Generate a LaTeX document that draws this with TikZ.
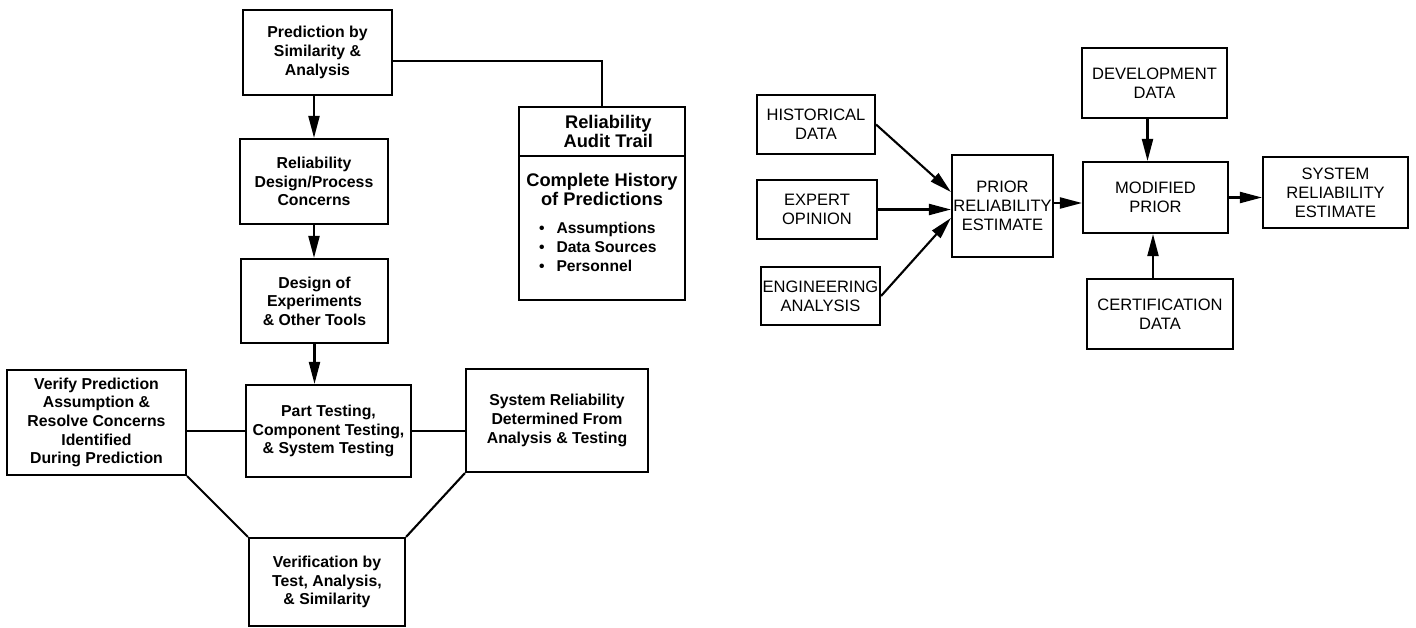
\documentclass[tikz,border=0pt]{standalone}
\usepackage{fontspec}
\setmainfont{Liberation Sans}
\usetikzlibrary{arrows.meta}
\tikzstyle{stepbox}=[rectangle,draw=black,line width=1.2pt,inner sep=0pt,align=center,font=\bfseries\fontsize{9}{10.6}\selectfont]
\tikzstyle{auditbox}=[rectangle,draw=black,line width=1.2pt,inner sep=0pt,align=center,font=\bfseries\fontsize{10.4}{10.9}\selectfont]
\tikzstyle{databox}=[rectangle,draw=black,line width=1.2pt,inner sep=0pt,align=center,font=\fontsize{9.4}{10.8}\selectfont]
\tikzstyle{inarrow}=[-{Triangle[length=0.44cm,width=0.22cm]},line width=1.2pt]
\tikzstyle{link}=[-,line width=1.2pt]
\pgfdeclarelayer{edgelayer}
\pgfdeclarelayer{nodelayer}
\pgfsetlayers{edgelayer,nodelayer,main}

\begin{document}
\begin{tikzpicture}
	\useasboundingbox (0,0) rectangle (28.32,-12.56);
	\begin{pgfonlayer}{nodelayer}
		% left: prediction and verification
		\node [style=stepbox, minimum width=2.98cm, minimum height=1.70cm] (pred) at (6.35, -1.05) {Prediction by\\ Similarity \&\\ Analysis};
		\node [style=stepbox, minimum width=2.96cm, minimum height=1.70cm] (conc) at (6.28, -3.63) {Reliability\\ Design/Process\\ Concerns};
		\node [style=stepbox, minimum width=2.94cm, minimum height=1.68cm] (doe) at (6.29, -6.02) {Design of\\ Experiments\\ \& Other Tools};
		\node [style=stepbox, minimum width=3.30cm, minimum height=1.84cm] (test) at (6.57, -8.62) {Part Testing,\\ Component Testing,\\ \& System Testing};
		\node [style=stepbox, minimum width=3.58cm, minimum height=2.10cm] (verify) at (1.93, -8.45) {Verify Prediction\\ Assumption \&\\ Resolve Concerns\\ Identified\\ During Prediction};
		\node [style=stepbox, minimum width=3.64cm, minimum height=2.06cm] (sysrel) at (11.14, -8.41) {System Reliability\\ Determined From\\ Analysis \& Testing};
		\node [style=stepbox, minimum width=3.12cm, minimum height=1.76cm] (verif) at (6.54, -11.64) {Verification by\\ Test, Analysis,\\ \& Similarity};
		\node [style=auditbox, minimum width=3.32cm, minimum height=0.98cm] (audhead) at (12.04, -2.63) {\hspace*{0.25cm}Reliability\\ \hspace*{0.25cm}Audit Trail};
		\node [style=auditbox, minimum width=3.32cm, minimum height=2.88cm] (audbody) at (12.04, -4.56) {\parbox[c][2.8cm][t]{3.3cm}{\vspace*{0.3cm}\centering Complete History\\ of Predictions\par
			\vspace{0.18cm}\raggedright\fontsize{8.9}{10.8}\selectfont
			\makebox[0.74cm][r]{\textbullet\hspace{0.24cm}}Assumptions\\
			\makebox[0.74cm][r]{\textbullet\hspace{0.24cm}}Data Sources\\
			\makebox[0.74cm][r]{\textbullet\hspace{0.24cm}}Personnel}};
		% right: reliability estimate
		\node [style=databox, minimum width=2.36cm, minimum height=1.18cm] (hist) at (16.32, -2.49) {HISTORICAL\\ DATA};
		\node [style=databox, minimum width=2.40cm, minimum height=1.18cm] (expert) at (16.34, -4.19) {EXPERT\\ OPINION};
		\node [style=databox, minimum width=2.38cm, minimum height=1.16cm] (eng) at (16.41, -5.92) {ENGINEERING\\ ANALYSIS};
		\node [style=databox, minimum width=2.02cm, minimum height=2.04cm] (prior) at (20.05, -4.12) {PRIOR\\ RELIABILITY\\ ESTIMATE};
		\node [style=databox, minimum width=2.90cm, minimum height=1.40cm] (dev) at (23.09, -1.66) {DEVELOPMENT\\ DATA};
		\node [style=databox, minimum width=2.90cm, minimum height=1.42cm] (modp) at (23.11, -3.95) {MODIFIED\\ PRIOR};
		\node [style=databox, minimum width=2.92cm, minimum height=1.40cm] (cert) at (23.20, -6.28) {CERTIFICATION\\ DATA};
		\node [style=databox, minimum width=2.90cm, minimum height=1.42cm] (sysest) at (26.71, -3.85) {SYSTEM\\ RELIABILITY\\ ESTIMATE};
	\end{pgfonlayer}
	\begin{pgfonlayer}{edgelayer}
		\draw [style=inarrow] (conc.north |- pred.south) to (conc.north);
		\draw [style=inarrow] (conc.south) to (conc.south |- doe.north);
		\draw [style=inarrow] (doe.south) to (doe.south |- test.north);
		\draw [style=link] ([yshift=-0.17cm]pred.east) -| (audhead.north);
		\draw [style=link] (test.west) to (test.west -| verify.east);
		\draw [style=link] (test.east) to (test.east -| sysrel.west);
		\draw [style=link] (verify.south east) to (verif.north west);
		\draw [style=link] (sysrel.south west) to (verif.north east);
		\draw [style=inarrow] (hist.east) to ([yshift=0.28cm]prior.west);
		\draw [style=inarrow] (expert.east) to (expert.east -| prior.west);
		\draw [style=inarrow] (eng.east) to ([yshift=-0.24cm]prior.west);
		\draw [style=inarrow] ([yshift=0.06cm]prior.east) to ([yshift=0.06cm]prior.east -| modp.west);
		\draw [style=inarrow] ([xshift=-0.14cm]dev.south) to ([xshift=-0.14cm]dev.south |- modp.north);
		\draw [style=inarrow] ([xshift=-0.14cm]cert.north) to ([xshift=-0.14cm]cert.north |- modp.south);
		\draw [style=inarrow] (modp.east) to (modp.east -| sysest.west);
	\end{pgfonlayer}
\end{tikzpicture}
\end{document}
